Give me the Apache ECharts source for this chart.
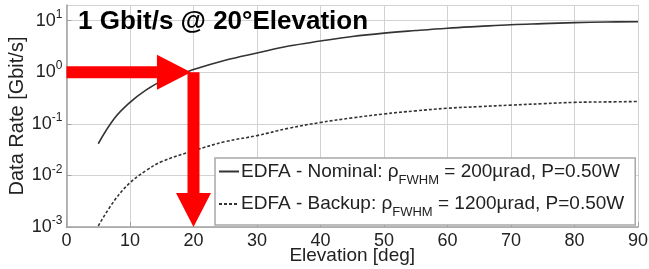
<!DOCTYPE html>
<html>
<head>
<meta charset="utf-8">
<script src="https://cdn.jsdelivr.net/npm/echarts@6.0.0/dist/echarts.min.js"></script>
<style>
html, body { margin: 0; padding: 0; background: #fff; }
#chart { width: 649px; height: 269px; }
</style>
</head>
<body>
<div id="chart"></div>
<script>
// values (elevation in deg, data rate in Gbit/s)
var elevation   = [5, 7.5, 10, 12.5, 15, 20, 25, 30, 35, 40, 45, 50, 55, 60, 65, 70, 75, 80, 85, 90];
var rateNominal = [0.041, 0.125, 0.26, 0.45, 0.67, 1.12, 1.7, 2.35, 3.2, 4.0, 4.9, 5.7, 6.4, 7.1, 7.7, 8.3, 8.7, 9.1, 9.35, 9.5];
var rateBackup  = [0.00105, 0.0032, 0.0072, 0.0123, 0.0185, 0.030, 0.045, 0.059, 0.082, 0.106, 0.13, 0.155, 0.178, 0.2, 0.215, 0.23, 0.245, 0.26, 0.265, 0.27];

var seriesNames = ['EDFA - Nominal', 'EDFA - Backup'];
var legendHead  = ['EDFA - Nominal: ρ', 'EDFA - Backup: ρ'];
var legendSub   = ['FWHM', 'FWHM'];
var legendTail  = [' = 200µrad, P=0.50W', ' = 1200µrad, P=0.50W'];

var yMin = 0.001, yMax = 20;

// the red marker: 1 Gbit/s reached at 20 deg
var markRate = 1, markElev = 20, markArrowEnd = 19.6;
var titleText = '1 Gbit/s @ 20°Elevation';

var font = 'Liberation Sans, Arial, sans-serif';

function pairs(xs, ys) {
    var out = [];
    for (var i = 0; i < xs.length; i++) out.push([xs[i], ys[i]]);
    return out;
}

var chart = echarts.init(document.getElementById('chart'));

var option = {
    animation: false,
    backgroundColor: '#fff',
    textStyle: { fontFamily: font },
    title: {
        text: titleText,
        left: 78, top: 9, padding: 0,
        textStyle: { fontFamily: font, fontSize: 26, fontWeight: 'bold', color: '#000' }
    },
    grid: { left: 66.5, right: 11, top: 5, bottom: 42, containLabel: false, outerBoundsMode: 'none' },
    legend: {
        left: 215, top: 158,
        orient: 'vertical',
        padding: [4, 11, 6, 3],
        itemGap: 8,
        itemWidth: 20, itemHeight: 14,
        backgroundColor: '#fff',
        borderColor: '#a8a8a8', borderWidth: 1.5,
        itemStyle: { color: 'rgba(0,0,0,0)', borderWidth: 0 },
        data: seriesNames,
        formatter: function (name) {
            var i = seriesNames.indexOf(name);
            return '{m|' + legendHead[i] + '}{s|' + legendSub[i] + '}{m|' + legendTail[i] + '}';
        },
        textStyle: {
            padding: [0, 0, 0, -3],
            rich: {
                m: { fontFamily: font, fontSize: 19, color: '#222', lineHeight: 30 },
                s: { fontFamily: font, fontSize: 13, color: '#222', lineHeight: 13, verticalAlign: 'bottom' }
            }
        }
    },
    xAxis: {
        type: 'value',
        min: 0, max: 90, interval: 10,
        name: 'Elevation [deg]',
        nameLocation: 'middle', nameGap: 19, nameMoveOverlap: false,
        nameTextStyle: { fontFamily: font, fontSize: 19, color: '#222' },
        axisLine: { lineStyle: { color: '#a0a0a0', width: 1.5 } },
        axisTick: { inside: true, length: 5, lineStyle: { color: '#a0a0a0' } },
        axisLabel: { fontFamily: font, fontSize: 18, color: '#222', margin: 5 },
        splitLine: { show: true, lineStyle: { color: '#d2d2d2', width: 1 } }
    },
    yAxis: {
        type: 'log',
        logBase: 10,
        min: yMin, max: yMax,
        name: 'Data Rate [Gbit/s]',
        nameLocation: 'middle', nameGap: 39, nameMoveOverlap: false,
        nameTextStyle: { fontFamily: font, fontSize: 20, color: '#222' },
        axisLine: { show: true, lineStyle: { color: '#a0a0a0', width: 1.5 } },
        axisTick: { show: true, inside: true, length: 5, lineStyle: { color: '#a0a0a0' } },
        axisLabel: {
            margin: 4,
            showMaxLabel: false,
            formatter: function (v) {
                var e = Math.log10(v);
                if (Math.abs(e - Math.round(e)) > 1e-6) return '';
                return '{b|10}{e|' + Math.round(e) + '}';
            },
            rich: {
                b: { fontFamily: font, fontSize: 18, color: '#222', lineHeight: 24 },
                e: { fontFamily: font, fontSize: 12, color: '#222', lineHeight: 12, verticalAlign: 'top' }
            }
        },
        splitLine: { show: true, lineStyle: { color: '#d2d2d2', width: 1 } }
    },
    series: [
        {
            name: seriesNames[0],
            type: 'line',
            data: pairs(elevation, rateNominal),
            smooth: 0.4,
            symbol: 'none',
            lineStyle: { color: '#333', width: 1.6, type: 'solid' },
            itemStyle: { color: '#333' },
            z: 3
        },
        {
            name: seriesNames[1],
            type: 'line',
            data: pairs(elevation, rateBackup),
            smooth: 0.4,
            symbol: 'none',
            lineStyle: { color: '#333', width: 1.6, type: [3, 2] },
            itemStyle: { color: '#333' },
            z: 3
        }
    ]
};
chart.setOption(option);

// red arrows placed through the chart's own scales
function px(x, y) { return chart.convertToPixel({ gridIndex: 0 }, [x, y]); }
var shaft = 6, head = 17.5, headLen = 34;
var a0 = px(0, markRate);
var aTip = px(markArrowEnd, markRate);
var vTop = px(markElev, markRate);
var vTip = px(markElev, yMin);

var hx = aTip[0] - headLen;
var vy = vTip[1] - headLen;
chart.setOption({
    graphic: [
        { type: 'rect', z: 100, shape: { x: a0[0], y: a0[1] - shaft, width: hx - a0[0], height: shaft * 2 }, style: { fill: '#ff0000' } },
        { type: 'polygon', z: 100, shape: { points: [[hx, a0[1] - head], [aTip[0], a0[1]], [hx, a0[1] + head]] }, style: { fill: '#ff0000' } },
        { type: 'rect', z: 100, shape: { x: vTop[0] - shaft, y: vTop[1], width: shaft * 2, height: vy - vTop[1] }, style: { fill: '#ff0000' } },
        { type: 'polygon', z: 100, shape: { points: [[vTop[0] - head, vy], [vTip[0], vTip[1]], [vTop[0] + head, vy]] }, style: { fill: '#ff0000' } }
    ]
});
</script>
</body>
</html>
